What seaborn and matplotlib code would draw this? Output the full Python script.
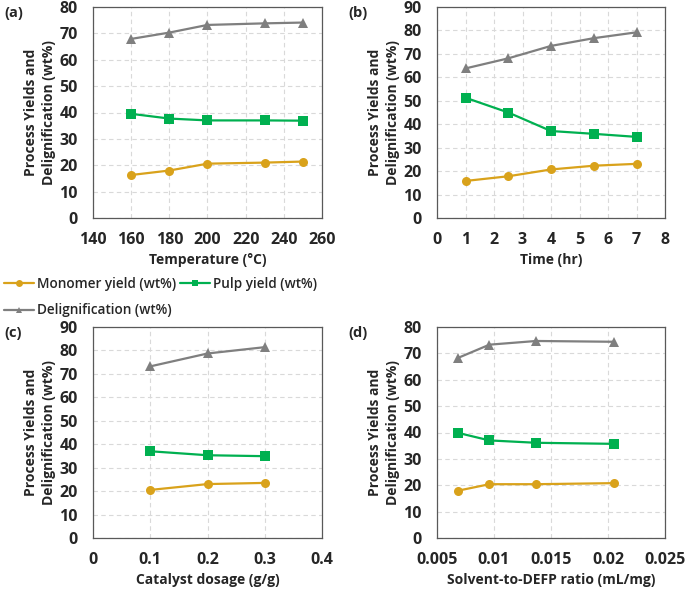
import pandas as pd
import matplotlib.pyplot as plt
import seaborn as sns

# Panel data
temperature = [160, 180, 200, 230, 250]
temp_monomer = [16.3, 18.0, 20.6, 21.0, 21.4]
temp_pulp = [39.5, 37.7, 37.0, 37.0, 36.9]
temp_delig = [67.9, 70.3, 73.2, 73.8, 74.1]

time_hr = [1, 2.5, 4, 5.5, 7]
time_monomer = [15.8, 17.8, 20.7, 22.3, 23.1]
time_pulp = [51.3, 45.0, 37.1, 35.9, 34.6]
time_delig = [63.8, 68.1, 73.4, 76.7, 79.2]

catalyst = [0.1, 0.2, 0.3]
cat_monomer = [20.5, 23.0, 23.5]
cat_pulp = [37.0, 35.3, 34.9]
cat_delig = [73.2, 78.7, 81.4]

ratio = [0.0068, 0.0096, 0.0137, 0.0205]
ratio_monomer = [17.9, 20.4, 20.4, 20.8]
ratio_pulp = [39.9, 37.0, 36.1, 35.7]
ratio_delig = [68.2, 73.3, 74.7, 74.4]

series_names = ["Monomer yield (wt%)", "Pulp yield (wt%)", "Delignification (wt%)"]
colors = ["#D9A21B", "#00B050", "#7F7F7F"]
markers = ["o", "s", "^"]

sns.set_style("white")
plt.rcParams['font.family'] = ['Open Sans', 'DejaVu Sans']

fig = plt.figure(figsize=(6.85, 5.93), dpi=100)
W, H = 685, 593

def make_ax(left, top, right, bottom):
    return fig.add_axes([left / W, 1 - bottom / H, (right - left) / W, (bottom - top) / H])

panels = [
    ("(a)", make_ax(93, 7, 322, 218), temperature, [temp_monomer, temp_pulp, temp_delig],
     (140, 260), range(140, 261, 20), (0, 80), "Temperature (°C)", None),
    ("(b)", make_ax(437, 7, 665, 218), time_hr, [time_monomer, time_pulp, time_delig],
     (0, 8), range(0, 9), (0, 90), "Time (hr)", None),
    ("(c)", make_ax(93, 327, 322, 538), catalyst, [cat_monomer, cat_pulp, cat_delig],
     (0, 0.4), [0, 0.1, 0.2, 0.3, 0.4], (0, 90), "Catalyst dosage (g/g)", ["0", "0.1", "0.2", "0.3", "0.4"]),
    ("(d)", make_ax(437, 327, 665, 538), ratio, [ratio_monomer, ratio_pulp, ratio_delig],
     (0.005, 0.025), [0.005, 0.01, 0.015, 0.02, 0.025], (0, 80), "Solvent-to-DEFP ratio (mL/mg)",
     ["0.005", "0.01", "0.015", "0.02", "0.025"]),
]

for label, ax, x, ys, xlim, xticks, ylim, xlabel, xticklabels in panels:
    df = pd.DataFrame({
        "x": list(x) * 3,
        "y": ys[0] + ys[1] + ys[2],
        "series": [s for s in series_names for _ in x],
    })
    sns.lineplot(data=df, x="x", y="y", hue="series", style="series",
                 palette=colors, markers=markers, dashes=False, linewidth=1.6,
                 markersize=6.5, markeredgewidth=0, ax=ax, legend=False)
    ax.set_xlim(*xlim)
    ax.set_ylim(*ylim)
    ax.set_xticks(list(xticks))
    if xticklabels is not None:
        ax.set_xticklabels(xticklabels)
    ax.set_yticks(range(ylim[0], ylim[1] + 1, 10))
    ax.grid(True, color="#D9D9D9", linestyle=(0, (4, 3)), linewidth=0.8)
    for sp in ax.spines.values():
        sp.set_color("#595959")
        sp.set_linewidth(0.9)
    ax.tick_params(axis="y", length=0, labelsize=11.5, pad=11)
    ax.tick_params(axis="x", length=0, labelsize=11.5, pad=10)
    for t in ax.get_xticklabels() + ax.get_yticklabels():
        t.set_fontweight("bold")
    ax.set_xlabel(xlabel, fontsize=10, fontweight="bold", labelpad=4)
    ax.set_ylabel("Process Yields and\nDelignification (wt%)", fontsize=10,
                  fontweight="bold", labelpad=2, linespacing=1.4)
    bbox = ax.get_position()
    fig.text(bbox.x0 - 89 / W, bbox.y1 - 6 / H, label, fontsize=10.5, fontweight="bold",
             va="center", ha="left")

# Shared legend, row-major order
handles = [plt.Line2D([], [], color=c, marker=m, markersize=5, linewidth=1.6, markeredgewidth=0)
           for c, m in zip(colors, markers)]
order = [0, 2, 1]
fig.legend([handles[i] for i in order], [series_names[i] for i in order],
           loc="upper left", bbox_to_anchor=(-0.012, 1 - 265 / H),
           ncol=2, frameon=False, handlelength=2.2, handletextpad=0.2,
           columnspacing=0.3, labelspacing=0.9, prop={"weight": "semibold", "size": 9.8})

plt.savefig("out.png", dpi=100)
